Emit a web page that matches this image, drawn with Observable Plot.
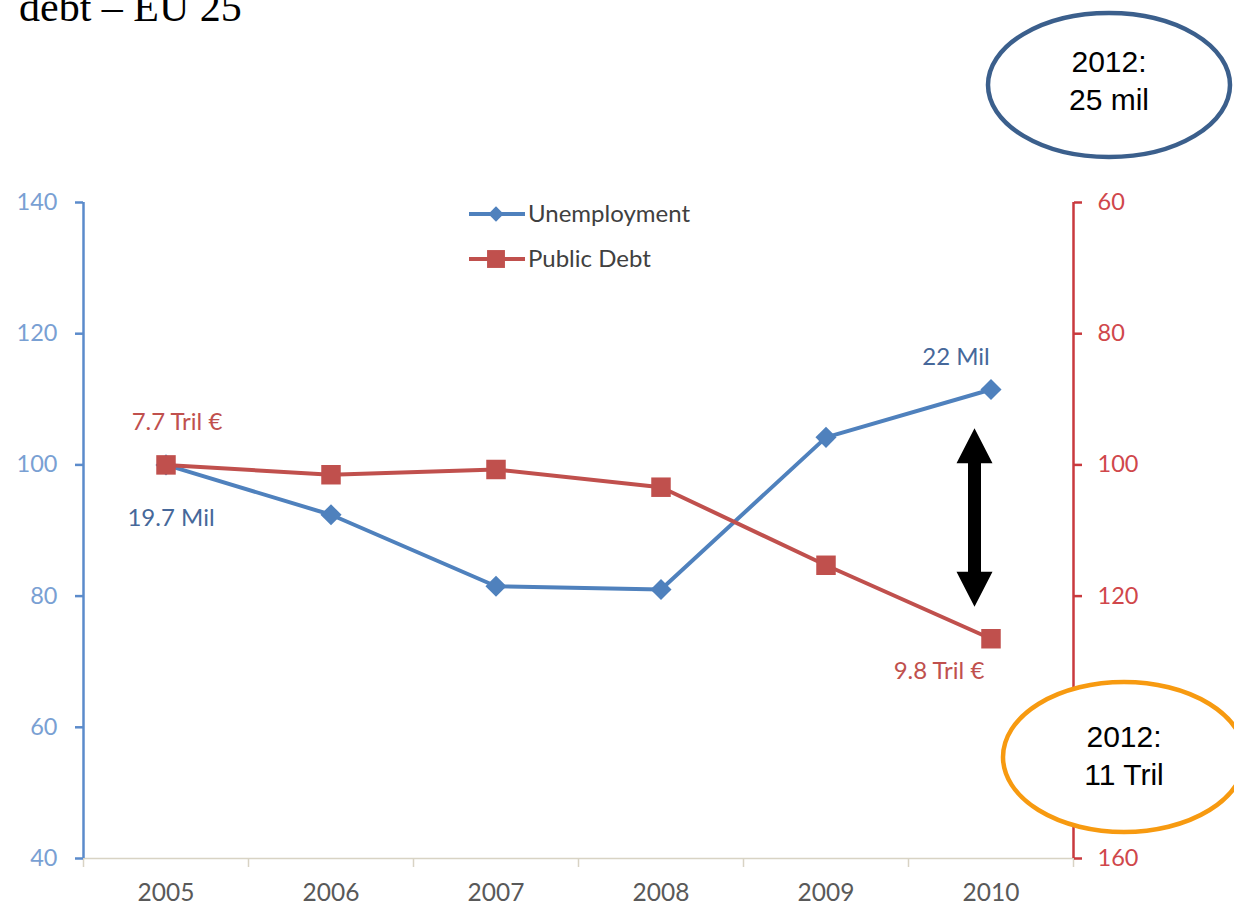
<!DOCTYPE html>
<html><head><meta charset="utf-8">
<script src="https://cdn.jsdelivr.net/npm/d3@7"></script>
<script src="https://cdn.jsdelivr.net/npm/@observablehq/plot@0.6"></script>
<style>
html,body{margin:0;padding:0;background:#fff;overflow:hidden;width:1234px;height:906px}
#wrap{position:relative;width:1234px;height:906px;overflow:hidden}
#title{position:absolute;left:19px;top:-14px;font-family:"Liberation Serif","Times New Roman",serif;font-size:42px;line-height:1;color:#000;white-space:nowrap;z-index:2}
</style></head><body><div id="wrap"><div id="title">debt – EU 25</div></div>
<script>
// ---- data (index, 2005 = 100) ----
const years = [2005, 2006, 2007, 2008, 2009, 2010];
const unemployment = [100, 92.4, 81.5, 81.0, 104.2, 111.5];   // left axis
const publicDebt = [100, 101.5, 100.7, 103.4, 115.3, 126.5];  // right axis (inverted)
const leftTicks = [40, 60, 80, 100, 120, 140];
const rightTicks = [60, 80, 100, 120, 140, 160];
const hiddenRightLabel = 140; // covered by the orange bubble in the original
const seriesNames = ["Unemployment", "Public Debt"];
const unemploymentLabels = ["19.7 Mil", "22 Mil"];   // 2005, 2010
const debtLabels = ["7.7 Tril €", "9.8 Tril €"];      // 2005, 2010
const bubbleTexts = [["2012:", "25 mil"], ["2012:", "11 Tril"]];

const BLUE = "#4f81bd", RED = "#c0504d";
const toLeft = d => 200 - d; // right (inverted) axis -> left axis units

const rows = years.map((year, i) => ({year, unemployment: unemployment[i], debt: toLeft(publicDebt[i])}));
const first = rows[0], last = rows[rows.length - 1];

const svg = Plot.plot({
  width: 1234, height: 906,
  marginTop: 202, marginBottom: 48, marginLeft: 83, marginRight: 161,
  style: {fontFamily: "Lato, 'Open Sans', sans-serif", background: "transparent", overflow: "visible"},
  x: {type: "linear", domain: [years[0] - 0.5, years[years.length - 1] + 0.5]},
  y: {domain: [leftTicks[0], leftTicks[leftTicks.length - 1]]},
  marks: [
    Plot.ruleY([leftTicks[0]], {stroke: "#d8d3c4", strokeWidth: 1.5}),
    Plot.axisX(years.map(y => y - 0.5).concat([years[years.length - 1] + 0.5]),
      {tickSize: 9, tickFormat: () => "", stroke: "#d8d3c4", strokeWidth: 1.5, label: null}),
    Plot.axisX(years, {tickSize: 0, tickPadding: 25, tickFormat: d => String(d), fill: "#595959", fontSize: 24.5, label: null}),
    Plot.ruleX([years[0] - 0.5], {stroke: "#5b8bcb", strokeWidth: 2.5}),
    Plot.axisY(leftTicks, {anchor: "left", tickSize: 8, tickPadding: 18, stroke: "#5b8bcb", strokeWidth: 2.5,
      fill: "#79a0d3", fontSize: 23.5, label: null}),
    Plot.ruleX([years[years.length - 1] + 0.5], {stroke: "#c9393e", strokeWidth: 2.5}),
    Plot.axisY(rightTicks.map(toLeft), {anchor: "right", tickSize: 8, tickPadding: 16,
      tickFormat: d => (200 - d === hiddenRightLabel ? "" : String(200 - d)),
      stroke: "#c9393e", strokeWidth: 2.5, fill: "#d0474b", fontSize: 23.5, label: null}),
    Plot.line(rows, {x: "year", y: "unemployment", stroke: BLUE, strokeWidth: 4}),
    Plot.dot(rows, {x: "year", y: "unemployment", symbol: "diamond2", r: 9.5, fill: BLUE, stroke: null}),
    Plot.line(rows, {x: "year", y: "debt", stroke: RED, strokeWidth: 4}),
    Plot.dot(rows, {x: "year", y: "debt", symbol: "square", r: 11, fill: RED, stroke: null}),
    Plot.text([first], {x: "year", y: "unemployment", text: () => unemploymentLabels[0], dx: 5, dy: 53, fill: "#46689a", fontSize: 24}),
    Plot.text([last], {x: "year", y: "unemployment", text: () => unemploymentLabels[1], dx: -35, dy: -32, fill: "#46689a", fontSize: 24}),
    Plot.text([first], {x: "year", y: "debt", text: () => debtLabels[0], dx: 11, dy: -43, fill: "#c0504d", fontSize: 24}),
    Plot.text([last], {x: "year", y: "debt", text: () => debtLabels[1], dx: -52, dy: 33, fill: "#c0504d", fontSize: 24})
  ]
});
document.getElementById("wrap").appendChild(svg);

// ---- annotations ----
const sx = svg.scale("x").apply, sy = svg.scale("y").apply;
const g = d3.select(svg).append("g");

// legend
const legendItems = [
  {name: seriesNames[0], color: BLUE, symbol: d3.symbolDiamond2, size: 150, y: 214},
  {name: seriesNames[1], color: RED, symbol: d3.symbolSquare, size: 320, y: 259}
];
for (const it of legendItems) {
  g.append("line").attr("x1", 469).attr("x2", 525).attr("y1", it.y).attr("y2", it.y)
    .attr("stroke", it.color).attr("stroke-width", 4);
  g.append("path").attr("d", d3.symbol(it.symbol, it.size)()).attr("transform", `translate(496,${it.y})`).attr("fill", it.color);
  g.append("text").attr("x", 528).attr("y", it.y).attr("dy", "0.35em").attr("font-size", 24)
    .attr("text-anchor", "start").attr("fill", "#404040").attr("font-family", "Lato, sans-serif").text(it.name);
}

// double-headed arrow between the two 2010 points
const arrowTop = 105.5, arrowBottom = 78.3;
const ax = sx(years[years.length - 1]) - 16, yT = sy(arrowTop), yB = sy(arrowBottom);
const hw = 18, hh = 35, sw = 6.5;
const pts = [[ax, yT], [ax + hw, yT + hh], [ax + sw, yT + hh], [ax + sw, yB - hh], [ax + hw, yB - hh], [ax, yB],
  [ax - hw, yB - hh], [ax - sw, yB - hh], [ax - sw, yT + hh], [ax - hw, yT + hh]];
g.append("polygon").attr("points", pts.map(p => p.join(",")).join(" ")).attr("fill", "#000");

// bubbles
const bubbles = [
  {cx: 1109, cy: 85, rx: 121, ry: 72, stroke: "#3b5f8c", lines: bubbleTexts[0], base: 72},
  {cx: 1124, cy: 757, rx: 121, ry: 75, stroke: "#f79a10", lines: bubbleTexts[1], base: 747}
];
for (const b of bubbles) {
  g.append("ellipse").attr("cx", b.cx).attr("cy", b.cy).attr("rx", b.rx).attr("ry", b.ry)
    .attr("fill", "#fff").attr("stroke", b.stroke).attr("stroke-width", 4.5);
  b.lines.forEach((t, i) => {
    g.append("text").attr("x", b.cx).attr("y", b.base + i * 38).attr("text-anchor", "middle")
      .attr("font-family", "'Liberation Sans', Arial, sans-serif").attr("font-size", 30).attr("fill", "#000").text(t);
  });
}
</script></body></html>
